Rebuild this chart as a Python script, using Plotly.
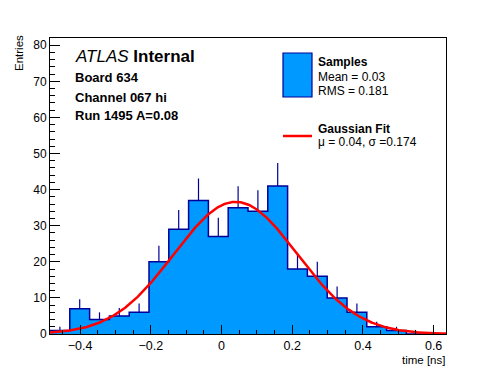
import numpy as np
import plotly.graph_objects as go

# ---- data ----
bin_edges_range = [-0.485, 0.635]
n_bins = 20
counts = [1, 7, 4, 5, 6, 20, 29, 37, 27, 35, 34, 41, 18, 16, 10, 6, 2, 1, 0, 0]
fit_mu = 0.04
fit_sigma = 0.174
fit_amp = 36.6
x_tickvals = [-0.4, -0.2, 0, 0.2, 0.4, 0.6]
x_ticktext = ["\u22120.4", "\u22120.2", "0", "0.2", "0.4", "0.6"]
y_tickvals = [0, 10, 20, 30, 40, 50, 60, 70, 80]
y_range = [0, 82]

width = (bin_edges_range[1] - bin_edges_range[0]) / n_bins
edges = [bin_edges_range[0] + i * width for i in range(n_bins + 1)]
centers = [e + width / 2 for e in edges[:-1]]

FILL = "rgb(0,153,255)"
NAVY = "rgb(0,0,153)"
FONT = "Liberation Sans, Arial, sans-serif"

fig = go.Figure()

# histogram as step fill
step_x = edges
step_y = counts + [counts[-1]]
fig.add_trace(go.Scatter(x=step_x, y=step_y, mode="lines", line=dict(shape="hv", color=NAVY, width=1.5),
                         fill="tozeroy", fillcolor=FILL, hoverinfo="skip", showlegend=False))

# error bars (upward part visible)
ex, ey = [], []
for c, n in zip(centers, counts):
    if n > 0:
        ex += [c, c, None]
        ey += [n, n + np.sqrt(n), None]
fig.add_trace(go.Scatter(x=ex, y=ey, mode="lines", line=dict(color=NAVY, width=1.2),
                         hoverinfo="skip", showlegend=False))

# Gaussian fit
gx = np.linspace(bin_edges_range[0], bin_edges_range[1], 400)
gy = fit_amp * np.exp(-0.5 * ((gx - fit_mu) / fit_sigma) ** 2)
fig.add_trace(go.Scatter(x=gx, y=gy, mode="lines", line=dict(color="rgb(255,0,0)", width=2.5),
                         hoverinfo="skip", showlegend=False))

OFF = 8  # page body margin
W, H = 496, 372
SL, SR, ST, SB = 50, 446, 38, 334  # plot frame in screen pixels
L, T = SL - OFF, ST - OFF
R, B = W - (SR - OFF), H - (SB - OFF)
PW, PH = SR - SL, SB - ST


def px(x):
    return (x - SL) / PW


def py(y):
    return (SB - y) / PH


fig.update_layout(
    width=W, height=H,
    margin=dict(l=L, r=R, t=T, b=B, pad=0),
    paper_bgcolor="white", plot_bgcolor="white",
    font=dict(family=FONT, size=12, color="black"),
    showlegend=False,
)
fig.update_xaxes(range=bin_edges_range, showline=True, mirror=True, linecolor="black", linewidth=1,
                 showgrid=False, zeroline=False, ticks="inside", ticklen=9, tickcolor="black",
                 tickvals=x_tickvals, ticktext=x_ticktext, tickfont=dict(size=12.5),
                 minor=dict(ticks="inside", ticklen=4, dtick=0.05, tick0=0, tickcolor="black", showgrid=False))
fig.update_yaxes(range=y_range, showline=True, mirror=True, linecolor="black", linewidth=1,
                 showgrid=False, zeroline=False, ticks="inside", ticklen=10, tickcolor="black",
                 tickvals=y_tickvals, tickfont=dict(size=12),
                 minor=dict(ticks="inside", ticklen=5, dtick=2, tick0=0, tickcolor="black", showgrid=False))

ann = []


def text(x, y, s, size=12, xanchor="left", yanchor="middle", angle=0):
    ann.append(dict(x=px(x), y=py(y), xref="paper", yref="paper", text=s, showarrow=False,
                    xanchor=xanchor, yanchor=yanchor, textangle=angle,
                    font=dict(family=FONT, size=size, color="black")))


text(19, 33, "Entries", size=11.5, xanchor="center", yanchor="top", angle=-90)
text(447, 360, "time [ns]", size=11.5, xanchor="right")
text(73, 57, "<i>ATLAS</i> <b>Internal</b>", size=17)
text(73, 77, "<b>Board 634</b>", size=13)
text(73, 97, "<b>Channel 067 hi</b>", size=13)
text(73, 116, "<b>Run 1495 A=0.08</b>", size=13)
text(316, 62, "<b>Samples</b>", size=12)
text(316, 77, "Mean = 0.03", size=12)
text(316, 91, "RMS = 0.181", size=12)
text(316, 129, "<b>Gaussian Fit</b>", size=12)
text(316, 142, "\u03bc = 0.04, \u03c3 =0.174", size=12)
fig.update_layout(annotations=ann)

# legend symbols
fig.add_shape(type="rect", xref="paper", yref="paper", x0=px(283), x1=px(312), y0=py(97), y1=py(53),
              fillcolor=FILL, line=dict(color=NAVY, width=1.2))
fig.add_shape(type="line", xref="paper", yref="paper", x0=px(283), x1=px(312), y0=py(136), y1=py(136),
              line=dict(color="rgb(255,0,0)", width=2.5))

fig.write_html("out.html")
